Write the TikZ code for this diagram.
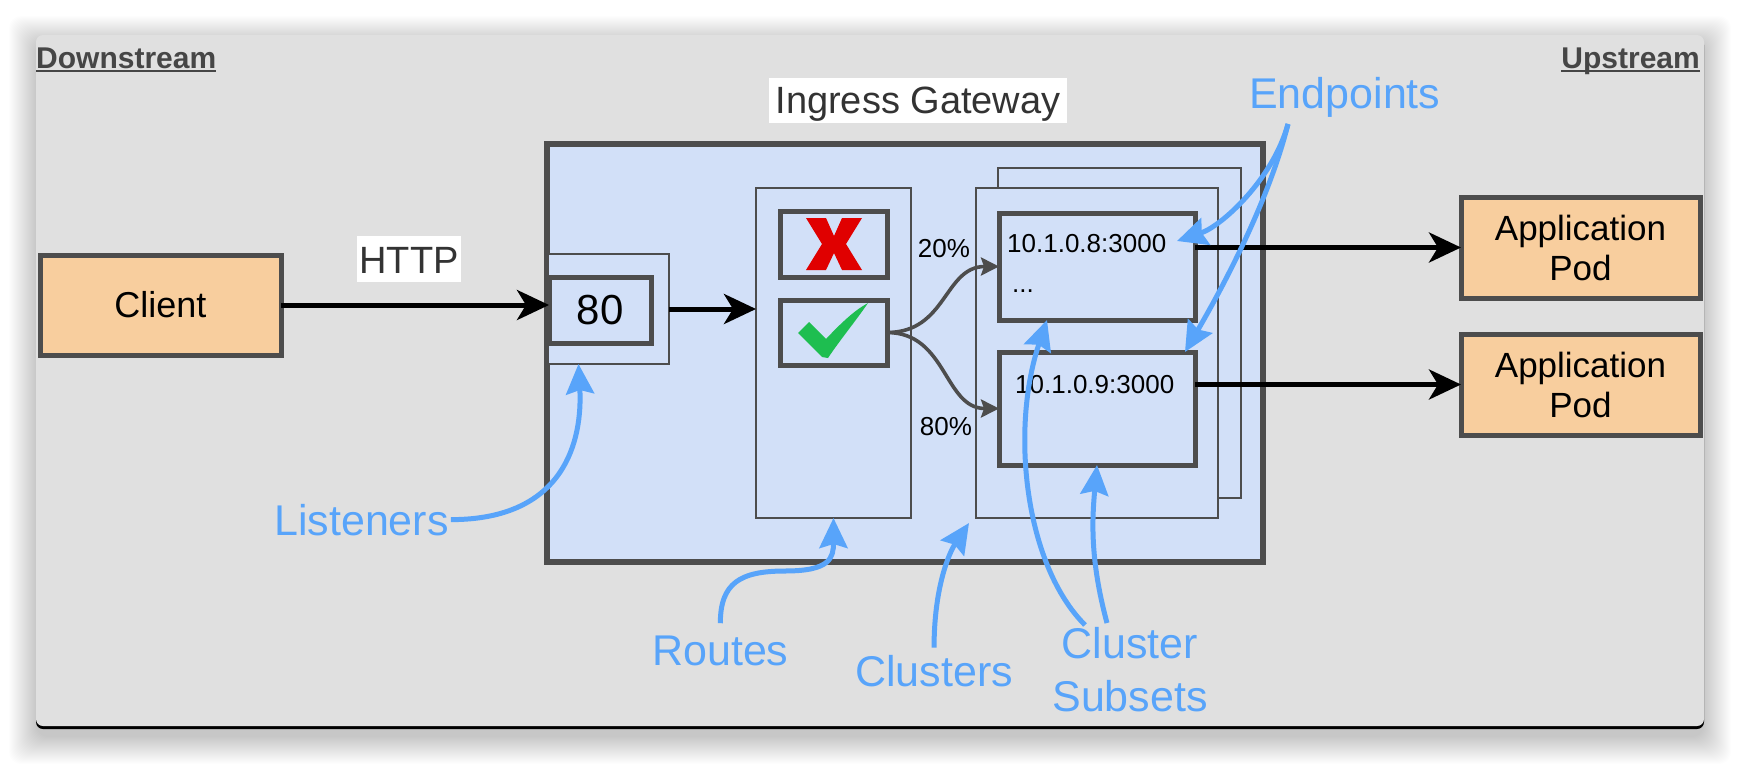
\documentclass[tikz,border=0pt]{standalone}
\usepackage{fontspec}
\setmainfont{Liberation Sans}
\usetikzlibrary{arrows.meta}
\definecolor{panel}{RGB}{224,224,224}
\definecolor{lblue}{RGB}{210,224,248}
\definecolor{orng}{RGB}{248,206,158}
\definecolor{edge}{RGB}{77,77,77}
\definecolor{ann}{RGB}{88,164,250}
\definecolor{xred}{RGB}{224,0,0}
\definecolor{okgreen}{RGB}{30,190,80}
\definecolor{tgray}{RGB}{51,51,51}
\definecolor{hgray}{RGB}{70,70,70}
\tikzset{
  thickbox/.style={draw=edge, line width=5pt, fill=lblue, inner sep=0pt, outer sep=0pt},
  thinbox/.style={draw=edge, line width=1.5pt, fill=lblue, inner sep=0pt, outer sep=0pt},
  podbox/.style={draw=edge, line width=5pt, fill=orng, inner sep=0pt, outer sep=0pt, align=center, font=\fontsize{35}{40}\selectfont},
  flowarrow/.style={line width=5pt, -{Stealth[length=32pt,width=30pt,inset=9pt]}},
  splitarrow/.style={draw=edge, line width=3.6pt, -{Stealth[length=18pt,width=18pt,inset=3pt]}},
  notearrow/.style={draw=ann, line width=5pt, -{Stealth[length=30pt,width=28pt,inset=4pt]}},
  annot/.style={text=ann, inner sep=2pt, font=\fontsize{43}{53}\selectfont},
  ip/.style={inner sep=0pt, font=\fontsize{26}{30}\selectfont},
  headlbl/.style={inner sep=0pt, text=hgray, font=\bfseries\fontsize{30}{36}\selectfont},
}
\begin{document}
\begin{tikzpicture}[x=1pt,y=-1pt]
\useasboundingbox (0,0) rectangle (1740,766);
\fill[white] (0,0) rectangle (1740,766);
% soft shadow of the panel
\foreach \i in {0,...,27} {
  \fill[black, opacity=0.009, rounded corners=12pt] ({36-\i},{43-\i}) rectangle ({1704+\i},{737+\i});
}
\fill[black, rounded corners=7pt] (36,38) rectangle (1704,729);
\fill[panel, rounded corners=7pt] (36,35) rectangle (1704,726);

% headings
\node[headlbl, anchor=base west] (down) at (36,68) {Downstream};
\draw[hgray, line width=2.2pt] ([yshift=-3pt]down.base west) -- ([yshift=-3pt]down.base east);
\node[headlbl, anchor=base east] (up) at (1700,68) {Upstream};
\draw[hgray, line width=2.2pt] ([yshift=-3pt]up.base west) -- ([yshift=-3pt]up.base east);

% gateway
\node[thickbox, line width=6pt, minimum width=716pt, minimum height=418pt] (gw) at (905,353) {};
\node[fill=white, inner sep=0pt, text height=35pt, text depth=10pt, minimum width=298pt, anchor=base, text=tgray, font=\fontsize{38}{44}\selectfont] (ig) at (918,113) {Ingress Gateway};

% listener
\node[thinbox, minimum width=121pt, minimum height=110pt] (lis) at (608.5,309) {};
\node[thickbox, minimum width=102pt, minimum height=66pt, font=\fontsize{42}{48}\selectfont] (port) at (600,310) {80};

% routes
\node[thinbox, minimum width=155pt, minimum height=330pt] (routes) at (833.5,353) {};
\node[thickbox, minimum width=107pt, minimum height=66pt] (xbox) at (833.5,244) {};
\node[thickbox, minimum width=107pt, minimum height=65pt] (okbox) at (833.5,332.5) {};
\fill[xred] (806,218) -- (826,218) -- (834,236) -- (842,218) -- (862,218) -- (846,244) -- (862,270) -- (842,270) -- (834,253) -- (826,270) -- (806,270) -- (822,244) -- cycle;
\fill[okgreen] (798,333) -- (809,322) -- (826,339) .. controls (842,322) and (855,310) .. (868,303)
  .. controls (855,322) and (840,340) .. (828,358) -- (822,357) -- cycle;

% clusters
\node[thinbox, minimum width=243pt, minimum height=330pt] (cback) at (1119.5,333) {};
\node[thinbox, minimum width=242pt, minimum height=330pt] (cluster) at (1097,353) {};
\node[thickbox, minimum width=196pt, minimum height=107pt] (sub1) at (1097,266.5) {};
\node[thickbox, minimum width=196pt, minimum height=113pt] (sub2) at (1097,408.5) {};
\node[ip, anchor=base west] (ip1) at (1007,252) {10.1.0.8:3000};
\node[ip, anchor=base west] (dots) at (1012,292) {...};
\node[ip, anchor=base west] (ip2) at (1015,393) {10.1.0.9:3000};
\node[ip, anchor=base] (p20) at (944,257) {20\%};
\node[ip, anchor=base] (p80) at (946,435) {80\%};

% client and pods
\node[podbox, minimum width=241pt, minimum height=100pt, font=\fontsize{36}{40}\selectfont] (client) at (160.5,305) {Client};
\node[podbox, minimum width=239pt, minimum height=101pt] (pod1) at (1580.5,247.5) {Application\\Pod};
\node[podbox, minimum width=239pt, minimum height=101pt] (pod2) at (1580.5,384.5) {Application\\Pod};
\node[fill=white, inner sep=0pt, text height=37pt, text depth=9pt, minimum width=104pt, anchor=base, text=tgray, font=\fontsize{38}{44}\selectfont] (http) at (409,273) {HTTP};

% flow arrows
\draw[flowarrow] (client.east) -- (port.west |- client.east);
\draw[flowarrow] (lis.east) -- (routes.west |- lis.east);
\draw[flowarrow] (sub1.east |- pod1.west) -- (pod1.west);
\draw[flowarrow] (sub2.east |- pod2.west) -- (pod2.west);
\draw[splitarrow] (okbox.east) .. controls +(60,0) and +(-55,0) .. (sub1.west);
\draw[splitarrow] (okbox.east) .. controls +(60,0) and +(-55,0) .. (sub2.west);

% annotations
\node[annot, anchor=base west] (lst) at (272,535) {Listeners};
\node[annot, anchor=base west] (rts) at (650,665) {Routes};
\node[annot, anchor=base west] (cls) at (853,686) {Clusters};
\node[annot, align=center] (css) at (1130,670) {Cluster\\Subsets};
\node[annot, anchor=base west] (ept) at (1247,108) {Endpoints};

\coordinate (rbend) at (785,571);
\coordinate (ctip) at (969,523);
\coordinate (ss1) at (1085,625);
\coordinate (ss2) at (1107,623);
\coordinate (epstart) at (1288,124);
\coordinate (ep1tip) at (1177,241);

\draw[notearrow] (lst.east) .. controls +(115,0) and +(4,75) .. ([xshift=-30pt]lis.south);
\draw[notearrow] ([yshift=10pt]rts.north) .. controls +(0,-40) and +(-45,0) .. (rbend)
  .. controls +(45,0) and +(0,40) .. (routes.south);
\draw[notearrow] ([yshift=5pt]cls.north) .. controls +(0,-60) and +(-20,30) .. (ctip);
\draw[notearrow] (ss1) .. controls (1025,565) and (1010,430) .. ([xshift=-50pt]sub1.south);
\draw[notearrow] (ss2) .. controls (1090,560) and (1092,520) .. (sub2.south);
\draw[notearrow] (epstart) .. controls +(-15,55) and +(45,-15) .. (ep1tip);
\draw[notearrow] (epstart) .. controls +(-20,80) and +(35,-60) .. ([xshift=-10pt]sub2.north east);
\end{tikzpicture}
\end{document}
